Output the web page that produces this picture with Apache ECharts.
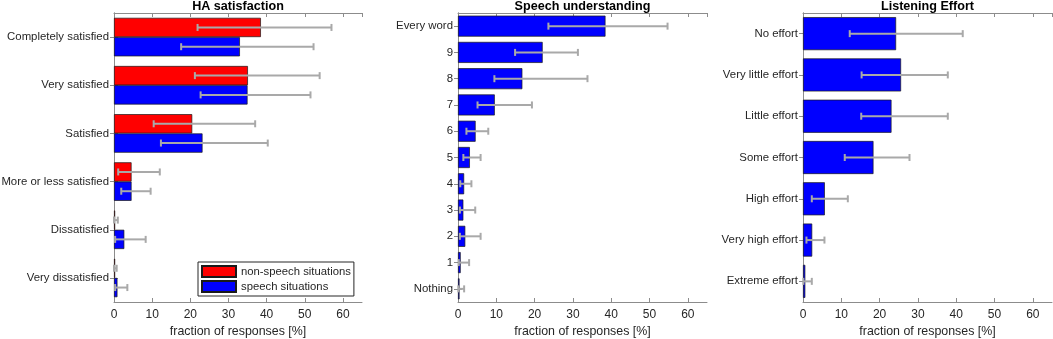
<!DOCTYPE html>
<html><head><meta charset="utf-8">
<script src="https://cdn.jsdelivr.net/npm/echarts@6/dist/echarts.min.js"></script>
<style>html,body{margin:0;padding:0;background:#fff}#c{width:1053px;height:339px}</style>
</head><body><div id="c"></div>
<script>
// ---- data ----
var titles = ['HA satisfaction', 'Speech understanding', 'Listening Effort'];
var xTicks = [0, 10, 20, 30, 40, 50, 60];
var haCats = ['Completely satisfied','Very satisfied','Satisfied','More or less satisfied','Dissatisfied','Very dissatisfied'];
var haNonSpeech     = [38.5, 35.1, 20.5, 4.6, 0.3, 0.3];
var haNonSpeechLow  = [21.9, 21.2, 10.4, 1.1, 0.0, 0.0];
var haNonSpeechHigh = [57.0, 53.9, 37.0, 12.0, 1.0, 0.7];
var haSpeech        = [33.0, 35.0, 23.2, 4.6, 2.7, 0.9];
var haSpeechLow     = [17.6, 22.7, 12.3, 1.9, 0.3, 0.3];
var haSpeechHigh    = [52.3, 51.5, 40.3, 9.6, 8.3, 3.5];
var suCats = ['Every word','9','8','7','6','5','4','3','2','1','Nothing'];
var suVals = [38.5, 22.1, 16.8, 9.6, 4.6, 3.1, 1.6, 1.4, 1.9, 0.7, 0.4];
var suLow  = [23.6, 14.9, 9.5, 5.1, 2.2, 1.4, 0.6, 0.5, 0.5, 0.2, 0.1];
var suHigh = [54.7, 31.3, 33.8, 19.3, 7.9, 5.9, 3.5, 4.5, 5.9, 2.9, 1.6];
var leCats = ['No effort','Very little effort','Little effort','Some effort','High effort','Very high effort','Extreme effort'];
var leVals = [24.3, 25.6, 23.1, 18.4, 5.7, 2.4, 0.6];
var leLow  = [12.2, 15.3, 15.2, 10.9, 2.3, 0.9, 0.1];
var leHigh = [41.7, 37.8, 37.8, 27.8, 11.7, 5.6, 2.3];
var xName = 'fraction of responses [%]';
var legendNames = ['non-speech situations', 'speech situations'];

// ---- styling ----
var FONT = 'Liberation Sans, Arial, Helvetica, sans-serif';
var AX = '#8c8c8c', TXT = '#262626', ERR = '#a9a9a9';
var grids = [
  {left: 114, top: 13, width: 248, height: 289, outerBoundsMode: 'none', containLabel: false},
  {left: 458, top: 13, width: 249, height: 289, outerBoundsMode: 'none', containLabel: false},
  {left: 803, top: 13, width: 249, height: 289, outerBoundsMode: 'none', containLabel: false}
];
var catsList = [haCats, suCats, leCats];

var xAxes = [], yAxes = [], series = [], titleOpts = [];
grids.forEach(function (g, i) {
  var base = {
    gridIndex: i, type: 'value', min: 0, max: 65, interval: 10,
    axisLine: {show: true, onZero: false, lineStyle: {color: AX, width: 1}},
    axisTick: {show: true, inside: true, length: 4, lineStyle: {color: AX}},
    splitLine: {show: false}
  };
  xAxes.push(Object.assign({}, base, {
    position: 'bottom',
    axisLabel: {show: true, color: TXT, fontFamily: FONT, fontSize: 12, margin: 7, showMaxLabel: false,
      formatter: function (v) { return xTicks.indexOf(v) >= 0 ? String(v) : ''; }},
    name: xName, nameLocation: 'middle', nameGap: 21,
    nameTextStyle: {color: TXT, fontFamily: FONT, fontSize: 12.4}
  }));
  xAxes.push(Object.assign({}, base, {position: 'top', axisLabel: {show: false}}));
  var ybase = {
    gridIndex: i, type: 'category', data: catsList[i], inverse: true,
    axisLine: {show: true, lineStyle: {color: AX, width: 1}},
    axisTick: {show: true, inside: true, length: 4, alignWithLabel: true, lineStyle: {color: AX}},
    splitLine: {show: false}
  };
  yAxes.push(Object.assign({}, ybase, {
    position: 'left',
    axisLabel: {show: true, color: TXT, fontFamily: FONT, fontSize: 11.4, margin: 5}
  }));
  yAxes.push(Object.assign({}, ybase, {position: 'right', axisLabel: {show: false}}));
  titleOpts.push({
    text: titles[i], left: g.left + g.width / 2, top: 0, padding: 0, textAlign: 'center',
    textStyle: {fontFamily: FONT, fontSize: 12.6, fontWeight: 'bold', color: '#000'}
  });
});

function errRender(offsetFrac) {
  return function (params, api) {
    var lo = api.coord([api.value(0), api.value(1)]);
    var hi = api.coord([api.value(2), api.value(1)]);
    var band = api.size([0, 1])[1];
    var y = lo[1] + band * offsetFrac;
    var cap = 3.5;
    var st = {stroke: ERR, lineWidth: 2, fill: null};
    return {type: 'group', children: [
      {type: 'line', shape: {x1: lo[0], y1: y, x2: hi[0], y2: y}, style: st},
      {type: 'line', shape: {x1: lo[0], y1: y - cap, x2: lo[0], y2: y + cap}, style: st},
      {type: 'line', shape: {x1: hi[0], y1: y - cap, x2: hi[0], y2: y + cap}, style: st}
    ]};
  };
}
function errData(lo, hi) {
  return lo.map(function (v, k) { return [v, k, hi[k]]; });
}
function barSeries(name, data, color, gi, extra) {
  return Object.assign({
    type: 'bar', name: name, data: data, xAxisIndex: gi * 2, yAxisIndex: gi * 2,
    itemStyle: {color: color, borderColor: '#1a1a1a', borderWidth: 0.7},
    barCategoryGap: '20%', barGap: '0%', z: 2, animation: false
  }, extra || {});
}
function errSeries(lo, hi, gi, off) {
  return {
    type: 'custom', xAxisIndex: gi * 2, yAxisIndex: gi * 2,
    data: errData(lo, hi), encode: {x: [0, 2], y: 1},
    renderItem: errRender(off), z: 5, animation: false, silent: true
  };
}

series.push(barSeries(legendNames[0], haNonSpeech, '#ff0000', 0));
series.push(barSeries(legendNames[1], haSpeech, '#0000ff', 0));
series.push(errSeries(haNonSpeechLow, haNonSpeechHigh, 0, -0.2));
series.push(errSeries(haSpeechLow, haSpeechHigh, 0, 0.2));
series.push(barSeries('Speech understanding', suVals, '#0000ff', 1));
series.push(errSeries(suLow, suHigh, 1, 0));
series.push(barSeries('Listening Effort', leVals, '#0000ff', 2));
series.push(errSeries(leLow, leHigh, 2, 0));

var chart = echarts.init(document.getElementById('c'), null, {renderer: 'canvas'});
chart.setOption({
  backgroundColor: '#fff',
  animation: false,
  title: titleOpts,
  grid: grids,
  xAxis: xAxes,
  yAxis: yAxes,
  legend: {
    data: legendNames, orient: 'vertical', left: 198, top: 262,
    padding: [3, 3, 3, 3], itemGap: 2, itemWidth: 34, itemHeight: 11,
    backgroundColor: '#fff', borderColor: '#262626', borderWidth: 1,
    icon: 'rect', selectedMode: false,
    textStyle: {fontFamily: FONT, fontSize: 11.3, color: TXT}
  },
  series: series
});
</script></body></html>
